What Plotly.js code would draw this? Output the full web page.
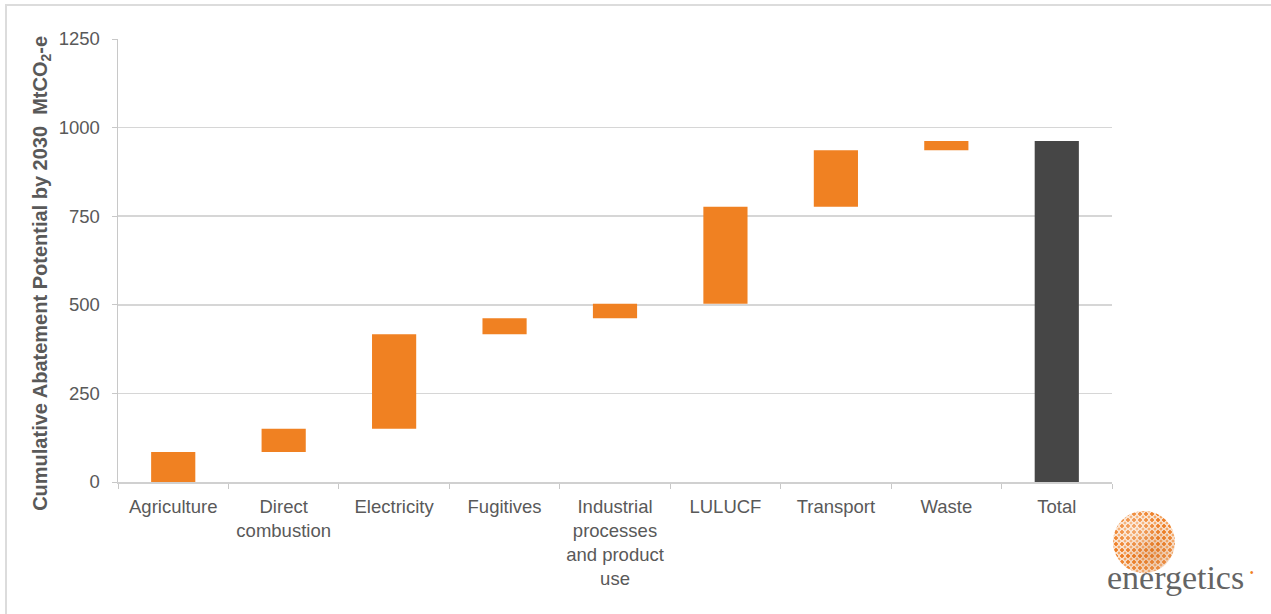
<!DOCTYPE html>
<html>
<head>
<meta charset="utf-8">
<script src="https://cdn.plot.ly/plotly-3.0.1.min.js"></script>
<style>
  html, body { margin: 0; padding: 0; background: #ffffff; }
  #wrap { position: relative; width: 1271px; height: 614px; overflow: hidden; }
  #chart { position: absolute; left: 0; top: 0; width: 1271px; height: 614px; }
  #frame { position: absolute; left: 5px; top: 4px; width: 1300px; height: 700px;
           border-left: 2px solid #dcdcdc; border-top: 2px solid #dcdcdc; pointer-events: none; }
  #sphere { position: absolute; left: 1113px; top: 511px; width: 62px; height: 62px; border-radius: 50%;
            overflow: hidden; pointer-events: none;
            background:
              radial-gradient(circle at 35% 30%, rgba(255,255,255,0.35) 0%, rgba(255,255,255,0) 45%, rgba(255,255,255,0.15) 80%, rgba(255,255,255,0.7) 100%),
              radial-gradient(circle at 65% 70%, rgba(200,110,40,0.35) 0%, rgba(200,110,40,0) 55%),
              radial-gradient(circle, #ee7d22 36%, rgba(238,125,34,0) 46%) 0 0 / 6px 6px,
              radial-gradient(circle, #f4a35e 28%, rgba(244,163,94,0) 40%) 3px 3px / 6px 6px,
              #fbe3cf; }
</style>
</head>
<body>
<div id="wrap">
  <div id="chart"></div>
  <div id="frame"></div>
  <div id="sphere"></div>
</div>
<script>
// Sector categories (tick labels)
var categories = ["Agriculture", "Direct<br>combustion", "Electricity", "Fugitives",
                  "Industrial<br>processes<br>and product<br>use", "LULUCF", "Transport", "Waste", "Total"];
// Abatement increments by sector (MtCO2-e), last entry is the total
var increments = [85, 65, 267, 45, 41, 274, 159, 26, 962];
var measures = ["relative", "relative", "relative", "relative", "relative", "relative", "relative", "relative", "total"];
var yTicks = [0, 250, 500, 750, 1000, 1250];
var yTitle = "<b>Cumulative Abatement Potential by 2030\u00a0\u00a0MtCO<sub>2</sub>-e</b>";

var textGrey = "#595959";
var fontFam = "Liberation Sans, Arial, sans-serif";

var trace = {
  type: "waterfall",
  x: categories,
  y: increments,
  measure: measures,
  increasing: { marker: { color: "#F08122" } },
  decreasing: { marker: { color: "#F08122" } },
  totals: { marker: { color: "#464646" } },
  connector: { visible: false },
  hoverinfo: "skip",
  textinfo: "none"
};

var layout = {
  width: 1271,
  height: 614,
  margin: { l: 118, r: 159, t: 39, b: 132 },
  paper_bgcolor: "rgba(0,0,0,0)",
  plot_bgcolor: "#ffffff",
  showlegend: false,
  waterfallgap: 0.6,
  font: { family: fontFam, color: textGrey, size: 18 },
  xaxis: {
    type: "category",
    tickson: "boundaries",
    ticks: "outside",
    ticklen: 5,
    tickcolor: "#c8c8c8",
    showline: true,
    linecolor: "#d0d0d0",
    linewidth: 1.5,
    showgrid: false,
    ticklabelstandoff: 7,
    tickfont: { family: fontFam, size: 18.5, color: textGrey },
    fixedrange: true
  },
  yaxis: {
    range: [0, 1250],
    tickvals: yTicks,
    ticktext: yTicks.map(String),
    ticks: "outside",
    ticklen: 5,
    tickcolor: "#c8c8c8",
    showline: true,
    linecolor: "#c8c8c8",
    linewidth: 1.5,
    showgrid: true,
    gridcolor: "#d6d6d6",
    gridwidth: 1.5,
    zeroline: false,
    ticklabelstandoff: 8,
    tickfont: { family: fontFam, size: 18.5, color: textGrey },
    fixedrange: true
  },
  annotations: [
    {
      xref: "paper", yref: "paper",
      x: -0.0765, y: 0.472,
      xanchor: "center", yanchor: "middle",
      textangle: -90,
      text: yTitle,
      showarrow: false,
      font: { family: fontFam, size: 20, color: textGrey }
    },
    {
      xref: "paper", yref: "paper",
      x: 1.064, y: -0.215,
      xanchor: "center", yanchor: "middle",
      text: "energetics",
      showarrow: false,
      font: { family: "Liberation Serif, DejaVu Serif, serif", size: 34, color: "#646464" }
    },
    {
      xref: "paper", yref: "paper",
      x: 1.141, y: -0.205,
      xanchor: "center", yanchor: "middle",
      text: "\u2022",
      showarrow: false,
      font: { family: fontFam, size: 10, color: "#F08122" }
    }
  ]
};

Plotly.newPlot("chart", [trace], layout, { staticPlot: true, displayModeBar: false });
</script>
</body>
</html>
